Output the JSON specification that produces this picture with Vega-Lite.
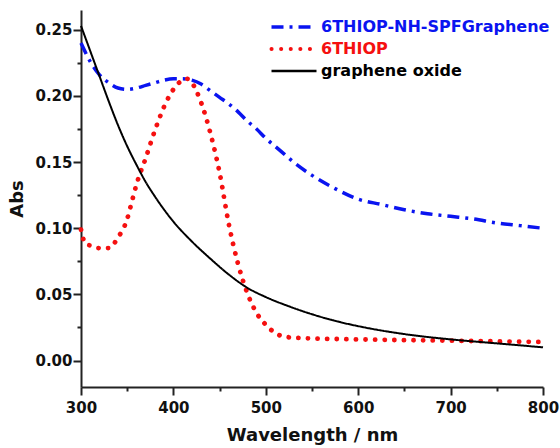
{
  "$schema": "https://vega.github.io/schema/vega-lite/v6.json",
  "width": 462,
  "height": 377,
  "autosize": {"type": "none"},
  "padding": {"left": 81, "top": 10, "right": 17, "bottom": 61},
  "background": "white",
  "config": {
    "view": {"stroke": null},
    "font": "DejaVu Sans",
    "axis": {
      "domainColor": "#222222",
      "domainWidth": 2,
      "tickColor": "#222222",
      "tickWidth": 2,
      "grid": false,
      "labelFlush": false,
      "labelOverlap": false,
      "labelFont": "DejaVu Sans",
      "labelFontWeight": "bold",
      "labelFontSize": 15,
      "labelColor": "#111111",
      "titleFont": "DejaVu Sans",
      "titleFontWeight": "bold",
      "titleFontSize": 18,
      "titleColor": "#111111"
    }
  },
  "data": {
    "values": [
      {"w": 300, "a": 0.240, "s": "6THIOP-NH-SPFGraphene"},
      {"w": 310, "a": 0.226, "s": "6THIOP-NH-SPFGraphene"},
      {"w": 320, "a": 0.216, "s": "6THIOP-NH-SPFGraphene"},
      {"w": 330, "a": 0.210, "s": "6THIOP-NH-SPFGraphene"},
      {"w": 340, "a": 0.206, "s": "6THIOP-NH-SPFGraphene"},
      {"w": 350, "a": 0.205, "s": "6THIOP-NH-SPFGraphene"},
      {"w": 360, "a": 0.206, "s": "6THIOP-NH-SPFGraphene"},
      {"w": 370, "a": 0.208, "s": "6THIOP-NH-SPFGraphene"},
      {"w": 380, "a": 0.210, "s": "6THIOP-NH-SPFGraphene"},
      {"w": 390, "a": 0.212, "s": "6THIOP-NH-SPFGraphene"},
      {"w": 400, "a": 0.213, "s": "6THIOP-NH-SPFGraphene"},
      {"w": 410, "a": 0.213, "s": "6THIOP-NH-SPFGraphene"},
      {"w": 420, "a": 0.212, "s": "6THIOP-NH-SPFGraphene"},
      {"w": 430, "a": 0.209, "s": "6THIOP-NH-SPFGraphene"},
      {"w": 440, "a": 0.204, "s": "6THIOP-NH-SPFGraphene"},
      {"w": 450, "a": 0.199, "s": "6THIOP-NH-SPFGraphene"},
      {"w": 460, "a": 0.194, "s": "6THIOP-NH-SPFGraphene"},
      {"w": 470, "a": 0.188, "s": "6THIOP-NH-SPFGraphene"},
      {"w": 480, "a": 0.181, "s": "6THIOP-NH-SPFGraphene"},
      {"w": 490, "a": 0.175, "s": "6THIOP-NH-SPFGraphene"},
      {"w": 500, "a": 0.168, "s": "6THIOP-NH-SPFGraphene"},
      {"w": 510, "a": 0.162, "s": "6THIOP-NH-SPFGraphene"},
      {"w": 520, "a": 0.156, "s": "6THIOP-NH-SPFGraphene"},
      {"w": 530, "a": 0.150, "s": "6THIOP-NH-SPFGraphene"},
      {"w": 550, "a": 0.140, "s": "6THIOP-NH-SPFGraphene"},
      {"w": 575, "a": 0.130, "s": "6THIOP-NH-SPFGraphene"},
      {"w": 600, "a": 0.122, "s": "6THIOP-NH-SPFGraphene"},
      {"w": 625, "a": 0.118, "s": "6THIOP-NH-SPFGraphene"},
      {"w": 650, "a": 0.114, "s": "6THIOP-NH-SPFGraphene"},
      {"w": 675, "a": 0.111, "s": "6THIOP-NH-SPFGraphene"},
      {"w": 700, "a": 0.109, "s": "6THIOP-NH-SPFGraphene"},
      {"w": 725, "a": 0.107, "s": "6THIOP-NH-SPFGraphene"},
      {"w": 750, "a": 0.104, "s": "6THIOP-NH-SPFGraphene"},
      {"w": 775, "a": 0.102, "s": "6THIOP-NH-SPFGraphene"},
      {"w": 800, "a": 0.100, "s": "6THIOP-NH-SPFGraphene"},
      {"w": 300, "a": 0.099, "s": "6THIOP"},
      {"w": 305, "a": 0.088, "s": "6THIOP"},
      {"w": 310, "a": 0.087, "s": "6THIOP"},
      {"w": 320, "a": 0.085, "s": "6THIOP"},
      {"w": 330, "a": 0.085, "s": "6THIOP"},
      {"w": 340, "a": 0.093, "s": "6THIOP"},
      {"w": 350, "a": 0.107, "s": "6THIOP"},
      {"w": 355, "a": 0.120, "s": "6THIOP"},
      {"w": 360, "a": 0.133, "s": "6THIOP"},
      {"w": 370, "a": 0.153, "s": "6THIOP"},
      {"w": 380, "a": 0.174, "s": "6THIOP"},
      {"w": 390, "a": 0.192, "s": "6THIOP"},
      {"w": 400, "a": 0.205, "s": "6THIOP"},
      {"w": 410, "a": 0.212, "s": "6THIOP"},
      {"w": 415, "a": 0.213, "s": "6THIOP"},
      {"w": 420, "a": 0.210, "s": "6THIOP"},
      {"w": 430, "a": 0.195, "s": "6THIOP"},
      {"w": 440, "a": 0.172, "s": "6THIOP"},
      {"w": 450, "a": 0.142, "s": "6THIOP"},
      {"w": 460, "a": 0.103, "s": "6THIOP"},
      {"w": 470, "a": 0.073, "s": "6THIOP"},
      {"w": 480, "a": 0.051, "s": "6THIOP"},
      {"w": 490, "a": 0.036, "s": "6THIOP"},
      {"w": 500, "a": 0.027, "s": "6THIOP"},
      {"w": 510, "a": 0.021, "s": "6THIOP"},
      {"w": 520, "a": 0.018, "s": "6THIOP"},
      {"w": 540, "a": 0.017, "s": "6THIOP"},
      {"w": 600, "a": 0.016, "s": "6THIOP"},
      {"w": 700, "a": 0.015, "s": "6THIOP"},
      {"w": 800, "a": 0.014, "s": "6THIOP"},
      {"w": 300, "a": 0.253, "s": "graphene oxide"},
      {"w": 310, "a": 0.234, "s": "graphene oxide"},
      {"w": 320, "a": 0.215, "s": "graphene oxide"},
      {"w": 330, "a": 0.196, "s": "graphene oxide"},
      {"w": 340, "a": 0.178, "s": "graphene oxide"},
      {"w": 350, "a": 0.162, "s": "graphene oxide"},
      {"w": 360, "a": 0.148, "s": "graphene oxide"},
      {"w": 370, "a": 0.135, "s": "graphene oxide"},
      {"w": 380, "a": 0.124, "s": "graphene oxide"},
      {"w": 390, "a": 0.114, "s": "graphene oxide"},
      {"w": 400, "a": 0.105, "s": "graphene oxide"},
      {"w": 420, "a": 0.090, "s": "graphene oxide"},
      {"w": 440, "a": 0.077, "s": "graphene oxide"},
      {"w": 460, "a": 0.065, "s": "graphene oxide"},
      {"w": 480, "a": 0.055, "s": "graphene oxide"},
      {"w": 500, "a": 0.048, "s": "graphene oxide"},
      {"w": 525, "a": 0.041, "s": "graphene oxide"},
      {"w": 550, "a": 0.035, "s": "graphene oxide"},
      {"w": 575, "a": 0.030, "s": "graphene oxide"},
      {"w": 600, "a": 0.026, "s": "graphene oxide"},
      {"w": 650, "a": 0.020, "s": "graphene oxide"},
      {"w": 700, "a": 0.016, "s": "graphene oxide"},
      {"w": 750, "a": 0.013, "s": "graphene oxide"},
      {"w": 800, "a": 0.010, "s": "graphene oxide"}
    ]
  },
  "encoding": {
    "x": {
      "field": "w",
      "type": "quantitative",
      "scale": {"domain": [300, 800], "nice": false, "zero": false},
      "axis": {
        "title": "Wavelength / nm",
        "values": [300, 350, 400, 450, 500, 550, 600, 650, 700, 750, 800],
        "labelExpr": "datum.value % 100 == 0 ? datum.label : ''",
        "tickSize": {"condition": {"test": "datum.value % 100 != 0", "value": 4}, "value": 8},
        "labelPadding": 5,
        "titlePadding": 11
      }
    },
    "y": {
      "field": "a",
      "type": "quantitative",
      "scale": {"domain": [-0.02, 0.265], "nice": false, "zero": false},
      "axis": {
        "title": "Abs",
        "values": [0, 0.025, 0.05, 0.075, 0.1, 0.125, 0.15, 0.175, 0.2, 0.225, 0.25],
        "labelExpr": "abs(datum.value*20 - round(datum.value*20)) < 0.01 ? format(datum.value, '.2f') : ''",
        "tickSize": {"condition": {"test": "abs(datum.value*20 - round(datum.value*20)) > 0.01", "value": 4}, "value": 8},
        "labelPadding": 1,
        "titlePadding": 8
      }
    },
    "color": {
      "field": "s",
      "type": "nominal",
      "scale": {
        "domain": ["6THIOP-NH-SPFGraphene", "6THIOP", "graphene oxide"],
        "range": ["#0a14f0", "#f51010", "#000000"]
      },
      "legend": {
        "title": null,
        "orient": "none",
        "legendX": 205,
        "legendY": 9,
        "padding": 0,
        "symbolType": "M-3,0H3",
        "symbolSize": 225,
        "symbolStrokeWidth": 3.5,
        "labelOffset": 19,
        "labelFont": "DejaVu Sans",
        "labelFontWeight": "bold",
        "labelFontSize": 16,
        "rowPadding": 6,
        "labelLimit": 400,
        "encode": {
          "symbols": {"update": {
            "strokeCap": {"signal": "datum.value == '6THIOP' ? 'round' : 'butt'"},
            "strokeWidth": {"signal": "datum.value == '6THIOP' ? 4 : datum.value == 'graphene oxide' ? 2.5 : 3.5"}
          }},
          "labels": {"update": {"fill": {"signal": "datum.value == '6THIOP' ? '#f51010' : datum.value == 'graphene oxide' ? '#000000' : '#0a14f0'"}}}
        }
      }
    },
    "strokeDash": {
      "field": "s",
      "type": "nominal",
      "scale": {
        "domain": ["6THIOP-NH-SPFGraphene", "6THIOP", "graphene oxide"],
        "range": [[12, 6, 3, 6], [0.1, 9.5], [1, 0]]
      },
      "legend": null
    }
  },
  "layer": [
    {
      "transform": [{"filter": "datum.s == '6THIOP-NH-SPFGraphene'"}],
      "mark": {"type": "line", "interpolate": "monotone", "strokeWidth": 3.5, "strokeCap": "butt"}
    },
    {
      "transform": [{"filter": "datum.s == '6THIOP'"}],
      "mark": {"type": "line", "interpolate": "monotone", "strokeWidth": 4.8, "strokeCap": "round"}
    },
    {
      "transform": [{"filter": "datum.s == 'graphene oxide'"}],
      "mark": {"type": "line", "interpolate": "monotone", "strokeWidth": 2, "strokeCap": "butt"}
    }
  ]
}
